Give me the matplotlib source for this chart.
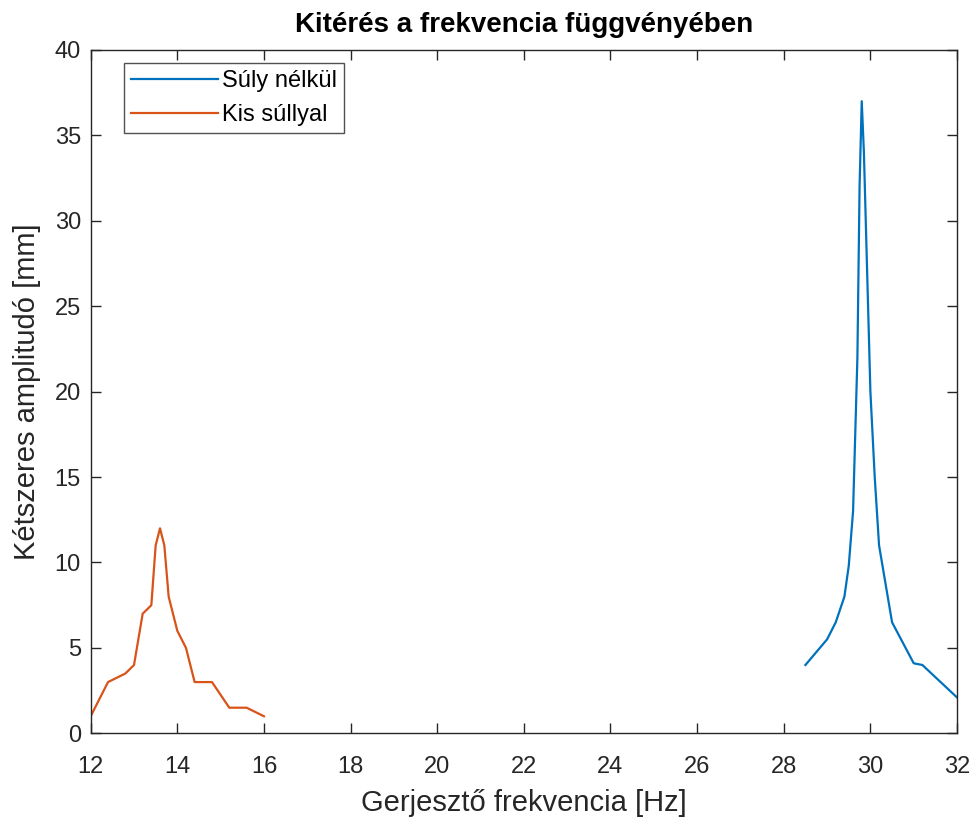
import matplotlib
matplotlib.use("Agg")
import matplotlib.pyplot as plt

# frequency sweep without added weight
freq_no_weight = [28.5, 29.0, 29.2, 29.4, 29.5, 29.6, 29.7, 29.75, 29.8, 29.85,
                  30.0, 30.1, 30.2, 30.5, 31.0, 31.2, 32.0]
amp_no_weight = [4.0, 5.5, 6.5, 8.0, 9.8, 13.0, 22.0, 32.0, 37.0, 34.0,
                 20.0, 15.0, 11.0, 6.5, 4.1, 4.0, 2.1]

# frequency sweep with a small weight
freq_small_weight = [12.0, 12.4, 12.8, 13.0, 13.2, 13.4, 13.5, 13.6, 13.7, 13.8,
                     14.0, 14.2, 14.4, 14.8, 15.2, 15.6, 16.0]
amp_small_weight = [1.0, 3.0, 3.5, 4.0, 7.0, 7.5, 11.0, 12.0, 11.0, 8.0,
                    6.0, 5.0, 3.0, 3.0, 1.5, 1.5, 1.0]

x_ticks = list(range(12, 33, 2))
y_ticks = list(range(0, 41, 5))

plt.rcParams['font.family'] = ['Liberation Sans', 'DejaVu Sans']
axis_col = '#262626'

fig = plt.figure(figsize=(9.72, 8.19), dpi=100)
ax = fig.add_axes([0.0933, 0.1046, 0.8913, 0.8344])

ax.plot(freq_no_weight, amp_no_weight, color='#0072BD', lw=1.6, label='Súly nélkül')
ax.plot(freq_small_weight, amp_small_weight, color='#D95319', lw=1.6, label='Kis súllyal')

ax.set_xlim(12, 32)
ax.set_ylim(0, 40)
ax.set_xticks(x_ticks)
ax.set_yticks(y_ticks)
ax.tick_params(direction='in', top=True, right=True, length=7, width=1,
               labelsize=17, colors=axis_col)
ax.tick_params(axis='x', pad=16)
ax.tick_params(axis='y', pad=7)
for sp in ax.spines.values():
    sp.set_color(axis_col)
    sp.set_linewidth(1)

ax.set_xlabel('Gerjesztő frekvencia [Hz]', fontsize=21, color=axis_col, labelpad=8)
ax.set_ylabel('Kétszeres amplitudó [mm]', fontsize=21, color=axis_col, labelpad=10)
ax.set_title('Kitérés a frekvencia függvényében', fontsize=20, fontweight='bold',
             color='black', pad=13)

leg = ax.legend(loc='upper left', bbox_to_anchor=(0.038, 0.981), fontsize=17,
                frameon=True, fancybox=False, edgecolor=axis_col,
                handlelength=3.7, handletextpad=0.15, borderpad=0.3,
                labelspacing=0.5, borderaxespad=0)
leg.get_frame().set_linewidth(1)

fig.savefig('out.png', dpi=100)
